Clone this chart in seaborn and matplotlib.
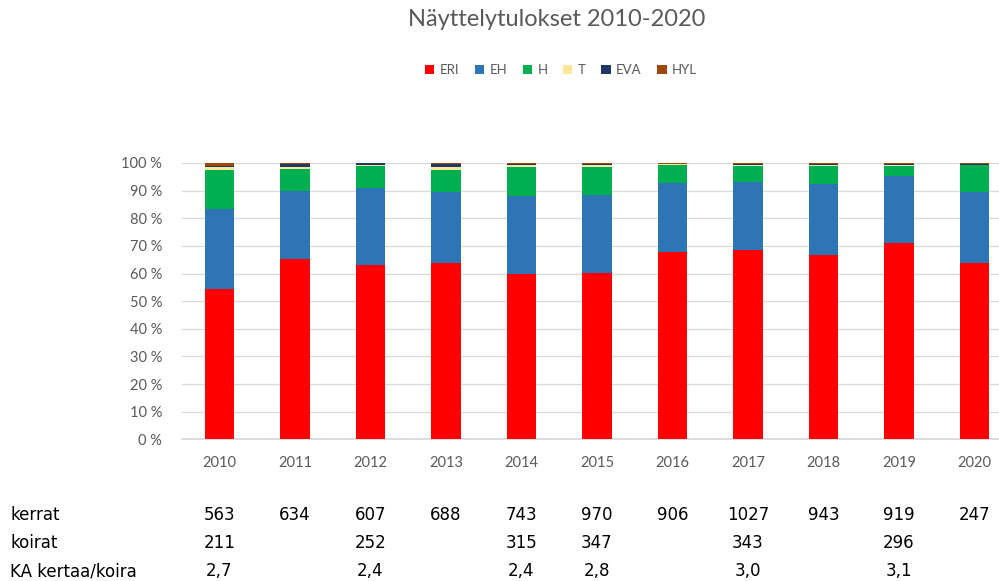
import matplotlib
matplotlib.use("Agg")
import matplotlib.pyplot as plt
import matplotlib.transforms as mtransforms
from matplotlib.patches import Patch
import seaborn as sns
import pandas as pd
import numpy as np

# näyttelytulokset prosentteina vuosittain
vuodet = ["2010", "2011", "2012", "2013", "2014", "2015", "2016", "2017", "2018", "2019", "2020"]
ERI = [54.3, 65.2, 63.0, 63.8, 59.8, 60.1, 67.8, 68.5, 66.7, 71.0, 63.8]
EH = [29.0, 24.8, 27.8, 25.8, 28.2, 28.3, 25.1, 24.7, 25.8, 24.4, 25.8]
H = [14.1, 7.8, 8.2, 7.9, 10.4, 10.1, 6.4, 5.7, 6.4, 3.5, 9.6]
T = [1.2, 0.8, 0.3, 1.1, 0.7, 0.7, 0.4, 0.5, 0.5, 0.5, 0.0]
EVA = [0.4, 1.0, 0.7, 1.0, 0.6, 0.5, 0.0, 0.3, 0.3, 0.3, 0.4]
HYL = [1.0, 0.4, 0.0, 0.4, 0.3, 0.3, 0.3, 0.3, 0.3, 0.3, 0.4]

kerrat = [563, 634, 607, 688, 743, 970, 906, 1027, 943, 919, 247]
koirat = [211, None, 252, None, 315, 347, None, 343, None, 296, None]
ka = ["2,7", None, "2,4", None, "2,4", "2,8", None, "3,0", None, "3,1", None]

luokat = ["ERI", "EH", "H", "T", "EVA", "HYL"]
varit = ["#FF0000", "#2E75B6", "#00B050", "#FFE699", "#203864", "#9E480E"]

df = pd.DataFrame({"vuosi": vuodet, "ERI": ERI, "EH": EH, "H": H, "T": T, "EVA": EVA, "HYL": HYL})
summa = df[luokat].cumsum(axis=1)
summa = summa.div(summa["HYL"], axis=0)  # normalisoidaan 100 %:iin
summa["vuosi"] = vuodet

sns.set_theme(style="white")
plt.rcParams['font.family'] = ['Lato', 'DejaVu Sans']
harmaa = "#595959"

fig = plt.figure(figsize=(9.99, 5.81), dpi=100)
ax = fig.add_axes([181.7 / 999, (581 - 439.3) / 581, 830.5 / 999, 276.3 / 581])

# pinotut pylväät: piirretään kumulatiiviset summat ylhäältä alas
for luokka, vari in reversed(list(zip(luokat, varit))):
    sns.barplot(data=summa, x="vuosi", y=luokka, color=vari, saturation=1,
                width=0.39, errorbar=None, ax=ax, zorder=3,
                edgecolor="none", linewidth=0)

ax.set_xlim(-0.5, 10.5)
ax.set_ylim(0, 1)
ax.set_yticks(np.arange(0, 1.01, 0.1))
ax.set_yticklabels([f"{int(round(v * 100))} %" for v in np.arange(0, 1.01, 0.1)])
ax.set_xlabel("")
ax.set_ylabel("")
ax.grid(axis="y", color="#D9D9D9", lw=0.9, zorder=0)
ax.set_axisbelow(True)
for s in ["top", "right", "left"]:
    ax.spines[s].set_visible(False)
ax.spines["bottom"].set_color("#D9D9D9")
ax.tick_params(axis="both", length=0, colors=harmaa, labelsize=10.5)
ax.tick_params(axis="y", pad=14)
ax.tick_params(axis="x", pad=12)

fig.text(557 / 999, 1 - 20 / 581, "Näyttelytulokset 2010-2020", ha="center", va="center",
         fontsize=17, color=harmaa)

kahvat = [Patch(facecolor=v, edgecolor="none") for v in varit]
fig.legend(kahvat, luokat, loc="center", bbox_to_anchor=(561 / 999, 1 - 70 / 581), ncol=6,
           frameon=False, fontsize=9.5, labelcolor=harmaa, handlelength=0.7, handleheight=0.7,
           handletextpad=0.4, columnspacing=1.2)

# taulukko kaavion alle
trans = mtransforms.blended_transform_factory(ax.transData, fig.transFigure)
rivit = [("kerrat", kerrat, 515), ("koirat", koirat, 543), ("KA kertaa/koira", ka, 571)]
for nimi, arvot, ypix in rivit:
    fig.text(10 / 999, 1 - ypix / 581, nimi, ha="left", va="center", fontsize=12,
             color="black", family="DejaVu Sans")
    for i, a in enumerate(arvot):
        if a is None:
            continue
        ax.text(i, 1 - ypix / 581, str(a), transform=trans, ha="center", va="center",
                fontsize=12, color="black", family="DejaVu Sans", clip_on=False)

fig.savefig("out.png", dpi=100)
